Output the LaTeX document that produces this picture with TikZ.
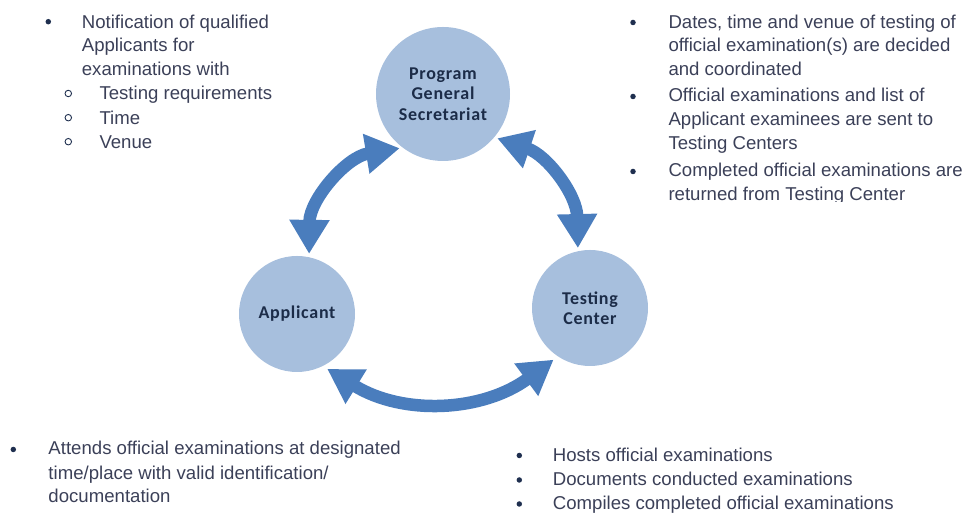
\documentclass[tikz,border=0pt]{standalone}
\usepackage{fontspec}
\setmainfont{Liberation Sans}
\newfontfamily\circfont[LetterSpace=4]{Carlito}
\usetikzlibrary{arrows.meta}
\definecolor{txtc}{HTML}{3B4058}
\definecolor{bulc}{HTML}{1F2F4F}
\definecolor{circfill}{HTML}{A7BFDD}
\definecolor{circtxt}{HTML}{1C2C48}
\definecolor{arrc}{HTML}{4A7DBD}
\tikzset{
  txt/.style={font=\fontsize{18.6}{24}\selectfont, text=txtc, inner sep=0pt, anchor=base west},
  dotbul/.style={circle, fill=bulc, inner sep=0pt, minimum size=5.5pt},
  obul/.style={circle, draw=bulc, line width=0.9pt, inner sep=0pt, minimum size=6.5pt},
  role/.style={circle, fill=circfill, text=circtxt, align=center, inner sep=0pt,
    font=\circfont\bfseries\fontsize{18}{20.5}\selectfont},
  flow/.style={draw=arrc, line width=12.5pt,
    {Triangle[width=38pt,length=34pt]}-{Triangle[width=38pt,length=34pt]}}
}
\begin{document}
\begin{tikzpicture}[x=1pt,y=1pt]
\useasboundingbox (0,0) rectangle (962,513);
% circles
\node[role, minimum size=134pt] (pgs) at (443,419) {Program\\General\\Secretariat};
\node[role, minimum size=116pt] (app) at (297,199) {Applicant};
\node[role, minimum size=116pt] (tc) at (590,205) {Testing\\Center};
% connectors
\draw[flow] ([shift={(-1,-2)}]pgs.231) to[bend right=40] ([shift={(1,3)}]app.79);
\draw[flow] ([shift={(2,-2)}]pgs.321) to[bend left=35] ([shift={(0,3)}]tc.102);
\draw[flow] ([shift={(2,-4)}]app.299) to[bend right=34] ([shift={(-3,-4)}]tc.235);
% top-left text
\node[dotbul] (b1) at (48.3,491.3) {};
\node[txt] (t1a) at (81.7,484.7) {Notification of qualified};
\node[txt] (t1b) at (81.7,461.0) {Applicants for};
\node[txt] (t1c) at (81.7,437.0) {examinations with};
\node[obul] (o1) at (68.3,419.5) {};
\node[txt] (t1d) at (99.3,413.0) {Testing requirements};
\node[obul] (o2) at (68.3,395.3) {};
\node[txt] (t1e) at (99.3,388.7) {Time};
\node[obul] (o3) at (68.3,371.3) {};
\node[txt] (t1f) at (99.3,364.7) {Venue};
% top-right text
\begin{scope}
\clip (600,311) rectangle (962,513);
\node[dotbul] (b2) at (633,490.5) {};
\node[txt] (t2a) at (668.3,484.7) {Dates, time and venue of testing of};
\node[txt] (t2b) at (668.3,461.0) {official examination(s) are decided};
\node[txt] (t2c) at (668.3,437.5) {and coordinated};
\node[dotbul] (b3) at (633,416.5) {};
\node[txt] (t2d) at (668.3,411.0) {Official examinations and list of};
\node[txt] (t2e) at (668.3,387.0) {Applicant examinees are sent to};
\node[txt] (t2f) at (668.3,363.0) {Testing Centers};
\node[dotbul] (b4) at (633,341.5) {};
\node[txt] (t2g) at (668.3,336.0) {Completed official examinations are};
\node[txt] (t2h) at (668.3,312.5) {returned from Testing Center};
\end{scope}
% bottom-left text
\node[dotbul] (b5) at (13.3,63.5) {};
\node[txt] (t3a) at (48.3,58.0) {Attends official examinations at designated};
\node[txt] (t3b) at (48.3,33.7) {time/place with valid identification/};
\node[txt] (t3c) at (48.3,10.3) {documentation};
% bottom-right text
\node[dotbul] (b6) at (519.3,57.5) {};
\node[txt] (t4a) at (552.7,51.3) {Hosts official examinations};
\node[dotbul] (b7) at (519.3,33.0) {};
\node[txt] (t4b) at (552.7,27.0) {Documents conducted examinations};
\node[dotbul] (b8) at (519.3,9.0) {};
\node[txt] (t4c) at (552.7,3.0) {Compiles completed official examinations};
\end{tikzpicture}
\end{document}
